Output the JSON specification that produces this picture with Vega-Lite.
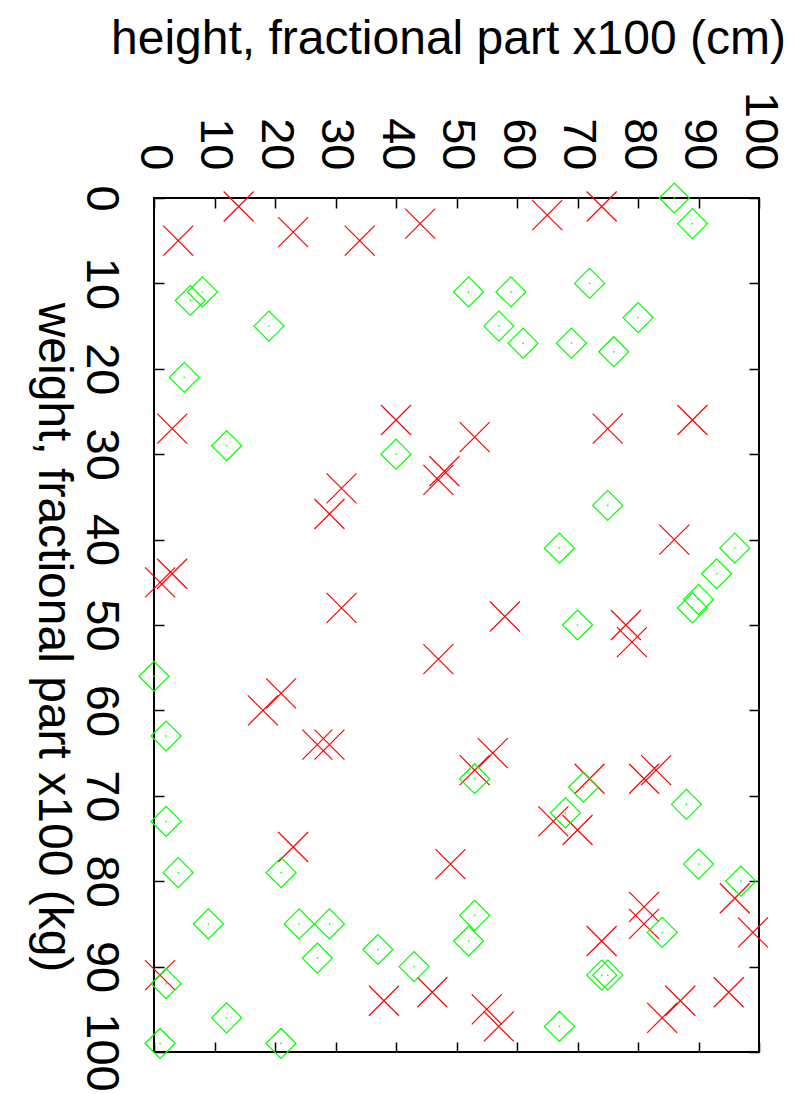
{
  "$schema": "https://vega.github.io/schema/vega-lite/v6.json",
  "width": 605,
  "height": 854,
  "autosize": {"type": "none"},
  "padding": {"left": 154, "top": 198, "right": 39, "bottom": 42},
  "background": "white",
  "config": {
    "view": {"stroke": "#000000", "strokeWidth": 2},
    "font": "Liberation Sans",
    "axis": {"grid": false, "domain": false, "labelFont": "Liberation Sans", "titleFont": "Liberation Sans", "labelColor": "#000000", "titleColor": "#000000", "tickColor": "#000000", "tickWidth": 1.5, "labelFlush": false, "labelOverlap": false, "labelBound": false, "titleFontWeight": "normal"}
  },
  "data": {"values": [
    {"s": "red", "h": 14, "w": 1}, {"s": "red", "h": 4, "w": 5}, {"s": "red", "h": 23, "w": 4}, {"s": "red", "h": 34, "w": 5}, {"s": "red", "h": 44, "w": 3},
    {"s": "red", "h": 65, "w": 2}, {"s": "red", "h": 74, "w": 1}, {"s": "red", "h": 3, "w": 27}, {"s": "red", "h": 40, "w": 26}, {"s": "red", "h": 47, "w": 33},
    {"s": "red", "h": 48, "w": 32}, {"s": "red", "h": 31, "w": 34}, {"s": "red", "h": 29, "w": 37}, {"s": "red", "h": 3, "w": 44}, {"s": "red", "h": 1, "w": 45},
    {"s": "red", "h": 31, "w": 48}, {"s": "red", "h": 53, "w": 28}, {"s": "red", "h": 75, "w": 27}, {"s": "red", "h": 89, "w": 26}, {"s": "red", "h": 86, "w": 40},
    {"s": "red", "h": 47, "w": 54}, {"s": "red", "h": 21, "w": 58}, {"s": "red", "h": 18, "w": 60}, {"s": "red", "h": 27, "w": 64}, {"s": "red", "h": 29, "w": 64},
    {"s": "red", "h": 58, "w": 49}, {"s": "red", "h": 78, "w": 50}, {"s": "red", "h": 79, "w": 52}, {"s": "red", "h": 56, "w": 65}, {"s": "red", "h": 53, "w": 67},
    {"s": "red", "h": 72, "w": 68}, {"s": "red", "h": 81, "w": 68}, {"s": "red", "h": 83, "w": 67}, {"s": "red", "h": 66, "w": 73}, {"s": "red", "h": 70, "w": 74},
    {"s": "red", "h": 23, "w": 76}, {"s": "red", "h": 49, "w": 78}, {"s": "red", "h": 1, "w": 91}, {"s": "red", "h": 38, "w": 94}, {"s": "red", "h": 46, "w": 93},
    {"s": "red", "h": 96, "w": 82}, {"s": "red", "h": 99, "w": 86}, {"s": "red", "h": 81, "w": 83}, {"s": "red", "h": 81, "w": 85}, {"s": "red", "h": 74, "w": 87},
    {"s": "red", "h": 55, "w": 95}, {"s": "red", "h": 57, "w": 97}, {"s": "red", "h": 84, "w": 96}, {"s": "red", "h": 87, "w": 94}, {"s": "red", "h": 95, "w": 93},
    {"s": "green", "h": 86, "w": 0}, {"s": "green", "h": 89, "w": 3}, {"s": "green", "h": 8, "w": 11}, {"s": "green", "h": 6, "w": 12}, {"s": "green", "h": 19, "w": 15},
    {"s": "green", "h": 5, "w": 21}, {"s": "green", "h": 52, "w": 11}, {"s": "green", "h": 59, "w": 11}, {"s": "green", "h": 72, "w": 10}, {"s": "green", "h": 57, "w": 15},
    {"s": "green", "h": 61, "w": 17}, {"s": "green", "h": 69, "w": 17}, {"s": "green", "h": 76, "w": 18}, {"s": "green", "h": 80, "w": 14}, {"s": "green", "h": 12, "w": 29},
    {"s": "green", "h": 40, "w": 30}, {"s": "green", "h": 75, "w": 36}, {"s": "green", "h": 67, "w": 41}, {"s": "green", "h": 96, "w": 41}, {"s": "green", "h": 93, "w": 44},
    {"s": "green", "h": 90, "w": 47}, {"s": "green", "h": 89, "w": 48}, {"s": "green", "h": 0, "w": 56}, {"s": "green", "h": 2, "w": 63}, {"s": "green", "h": 70, "w": 50},
    {"s": "green", "h": 53, "w": 68}, {"s": "green", "h": 71, "w": 69}, {"s": "green", "h": 88, "w": 71}, {"s": "green", "h": 68, "w": 72}, {"s": "green", "h": 2, "w": 73},
    {"s": "green", "h": 4, "w": 79}, {"s": "green", "h": 21, "w": 79}, {"s": "green", "h": 9, "w": 85}, {"s": "green", "h": 24, "w": 85}, {"s": "green", "h": 29, "w": 85},
    {"s": "green", "h": 27, "w": 89}, {"s": "green", "h": 37, "w": 88}, {"s": "green", "h": 43, "w": 90}, {"s": "green", "h": 2, "w": 92}, {"s": "green", "h": 12, "w": 96},
    {"s": "green", "h": 1, "w": 99}, {"s": "green", "h": 21, "w": 99}, {"s": "green", "h": 90, "w": 78}, {"s": "green", "h": 97, "w": 80}, {"s": "green", "h": 53, "w": 84},
    {"s": "green", "h": 52, "w": 87}, {"s": "green", "h": 84, "w": 86}, {"s": "green", "h": 74, "w": 91}, {"s": "green", "h": 75, "w": 91}, {"s": "green", "h": 67, "w": 97}
  ]},
  "layer": [
    {
      "layer": [
        {
          "transform": [{"filter": "datum.s === 'red'"}],
          "mark": {"type": "point", "shape": "M-1,-1L1,1M-1,1L1,-1", "size": 900, "stroke": "#ff0000", "strokeWidth": 1.2, "filled": false, "opacity": 1},
          "encoding": {
            "x": {"field": "h", "type": "quantitative", "scale": {"domain": [0, 100], "nice": false, "zero": false},
              "axis": {"orient": "top", "values": [0, 10, 20, 30, 40, 50, 60, 70, 80, 90, 100], "format": "d", "tickSize": -10, "labelAngle": 90, "labelAlign": "right", "labelBaseline": "middle", "labelPadding": 38, "labelFontSize": 47,
                "title": "height, fractional part x100 (cm)", "titleFontSize": 48, "titleAngle": 0, "titleAlign": "center", "titleBaseline": "alphabetic", "titleX": 294, "titleY": -145}},
            "y": {"field": "w", "type": "quantitative", "scale": {"domain": [0, 100], "nice": false, "zero": false, "reverse": true},
              "axis": {"orient": "left", "values": [0, 10, 20, 30, 40, 50, 60, 70, 80, 90, 100], "format": "d", "tickSize": -10, "labelAngle": 90, "labelAlign": "center", "labelBaseline": "top", "labelPadding": 41, "labelFontSize": 47,
                "title": "weight, fractional part x100 (kg)", "titleFontSize": 48, "titleAngle": 90, "titleAlign": "center", "titleBaseline": "alphabetic", "titleX": -116, "titleY": 439}}
          }
        },
        {
          "transform": [{"filter": "datum.s === 'green'"}],
          "mark": {"type": "point", "shape": "M-1,0L0,-1L1,0L0,1Z", "size": 900, "stroke": "#00ff00", "strokeWidth": 1.2, "filled": false, "opacity": 1},
          "encoding": {
            "x": {"field": "h", "type": "quantitative"},
            "y": {"field": "w", "type": "quantitative"}
          }
        }
      ]
    },
    {
      "transform": [{"filter": "datum.s === 'green'"}],
      "mark": {"type": "point", "shape": "square", "size": 2, "filled": true, "color": "#00ff00", "opacity": 1},
      "encoding": {
        "x": {"field": "h", "type": "quantitative",
          "axis": {"orient": "bottom", "values": [0, 10, 20, 30, 40, 50, 60, 70, 80, 90, 100], "labels": false, "title": null, "tickSize": -10}},
        "y": {"field": "w", "type": "quantitative",
          "axis": {"orient": "right", "values": [0, 10, 20, 30, 40, 50, 60, 70, 80, 90, 100], "labels": false, "title": null, "tickSize": -10}}
      }
    }
  ],
  "resolve": {"axis": {"x": "independent", "y": "independent"}}
}
